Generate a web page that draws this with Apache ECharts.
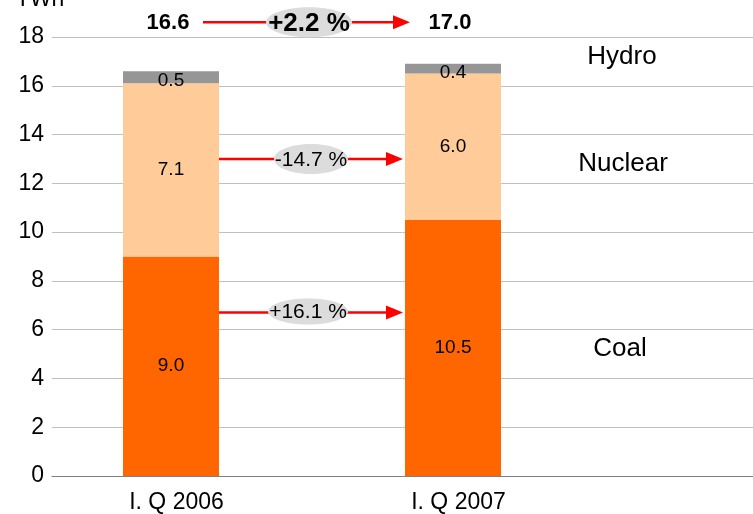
<!DOCTYPE html>
<html>
<head>
<meta charset="utf-8">
<script src="https://cdn.jsdelivr.net/npm/echarts@6/dist/echarts.min.js"></script>
<style>
  html, body { margin: 0; padding: 0; background: #fff; }
  #chart { width: 753px; height: 514px; }
</style>
</head>
<body>
<div id="chart"></div>
<script>
// data
var categories = ['I. Q 2006', 'I. Q 2007'];
var coal = [9.0, 10.5];
var nuclear = [7.1, 6.0];
var hydro = [0.5, 0.4];
var totals = ['16.6', '17.0'];
var changes = ['+2.2 %', '-14.7 %', '+16.1 %'];   // total, nuclear, coal
var seriesNames = ['Hydro', 'Nuclear', 'Coal'];
var yTicks = [0, 18, 2]; // min, max, interval

var font = 'Liberation Sans, Arial, sans-serif';
var myChart = echarts.init(document.getElementById('chart'));

function barSeries(name, data, color, extraLabel) {
  return {
    name: name,
    type: 'bar',
    stack: 'total',
    xAxisIndex: 1,
    yAxisIndex: 1,
    barWidth: 96,
    data: data,
    itemStyle: { color: color },
    label: Object.assign({
      show: true,
      position: 'inside',
      color: '#000',
      fontSize: 19,
      fontFamily: font,
      formatter: function (p) { return p.value.toFixed(1); }
    }, extraLabel || {})
  };
}

var option = {
  animation: false,
  grid: [
    { left: 52, right: 0, top: 37, bottom: 38, containLabel: false, outerBoundsMode: 'none' },
    { left: 30, right: 159, top: 37, bottom: 38, containLabel: false, outerBoundsMode: 'none' }
  ],
  xAxis: [
    {
      type: 'category', gridIndex: 0, data: [''],
      axisLine: { lineStyle: { color: '#808080', width: 1 } },
      axisTick: { show: false }, axisLabel: { show: false }
    },
    {
      type: 'category', gridIndex: 1, data: categories,
      axisLine: { show: false }, axisTick: { show: false },
      axisLabel: { color: '#000', fontSize: 23, fontFamily: font, margin: 15, padding: [0, 0, 0, 11] }
    }
  ],
  yAxis: [
    {
      type: 'value', gridIndex: 0, min: yTicks[0], max: yTicks[1], interval: yTicks[2],
      name: 'TWh', nameLocation: 'end', nameGap: 26,
      nameTextStyle: { color: '#000', fontSize: 23, fontFamily: font, align: 'center', padding: [0, 24, 0, 0] },
      axisLine: { show: false }, axisTick: { show: false },
      axisLabel: { color: '#000', fontSize: 23, fontFamily: font, margin: 8 },
      splitLine: { lineStyle: { color: '#c0c0c0', width: 1 } }
    },
    {
      type: 'value', gridIndex: 1, min: yTicks[0], max: yTicks[1], interval: yTicks[2],
      show: false, splitLine: { show: false }
    }
  ],
  series: [
    barSeries('Coal', coal, '#ff6600'),
    barSeries('Nuclear', nuclear, '#ffcc99'),
    barSeries('Hydro', hydro, '#969696', { offset: [0, 4] })
  ]
};
myChart.setOption(option);

function px(cat, val) {
  return myChart.convertToPixel({ gridIndex: 1 }, [cat, val]);
}

function arrow(x1, x2, y) {
  return [
    { type: 'line', shape: { x1: x1, y1: y, x2: x2 - 14, y2: y }, style: { stroke: '#ff0000', lineWidth: 2.5 }, z: 10 },
    { type: 'polygon', shape: { points: [[x2 - 17, y - 7], [x2, y], [x2 - 17, y + 7]] }, style: { fill: '#ff0000' }, z: 10 }
  ];
}

function bubble(cx, cy, rx, ry, text, size, weight) {
  return [
    { type: 'ellipse', shape: { cx: cx, cy: cy, rx: rx, ry: ry }, style: { fill: '#dcdcdc' }, z: 11 },
    { type: 'text', x: cx, y: cy + 1, z: 12,
      style: { text: text, fill: '#000', font: weight + ' ' + size + 'px ' + font, align: 'center', verticalAlign: 'middle' } }
  ];
}

var c0 = px(0, 0)[0], c1 = px(1, 0)[0];
var yTop = px(0, 18.6)[1];
var yNuc = px(0, 13.0)[1];
var yCoal = px(0, 6.7)[1];
var midX = (c0 + c1) / 2;

var els = [];
els = els.concat(arrow(c0 + 32, c1 - 43, yTop));
els = els.concat(arrow(c0 + 48, c1 - 50, yNuc));
els = els.concat(arrow(c0 + 48, c1 - 50, yCoal));
els = els.concat(bubble(midX - 3, yTop, 43, 15, changes[0], 26, 'bold'));
els = els.concat(bubble(midX - 1, yNuc, 37, 15, changes[1], 21, 'normal'));
els = els.concat(bubble(midX - 4, yCoal - 1, 40, 13, changes[2], 21, 'normal'));
[0, 1].forEach(function (i) {
  var p = px(i, 18.6);
  els.push({ type: 'text', x: p[0] - 3, y: p[1] + 1, z: 12,
    style: { text: totals[i], fill: '#000', font: 'bold 22px ' + font, align: 'center', verticalAlign: 'middle' } });
});
// series names on the right
var namePos = [[622, 17.2], [623, 12.8], [620, 5.2]];
seriesNames.forEach(function (n, i) {
  var y = myChart.convertToPixel({ yAxisIndex: 0 }, namePos[i][1]);
  els.push({ type: 'text', x: namePos[i][0], y: y, z: 12,
    style: { text: n, fill: '#000', font: '26px ' + font, align: 'center', verticalAlign: 'middle' } });
});
myChart.setOption({ graphic: { elements: els } });
</script>
</body>
</html>
